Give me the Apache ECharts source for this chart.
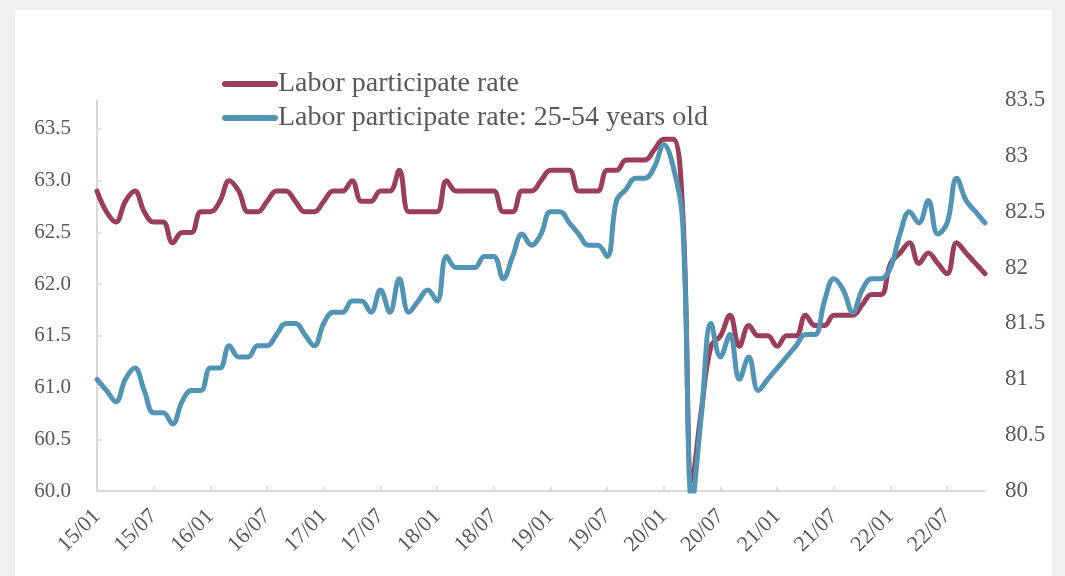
<!DOCTYPE html>
<html>
<head>
<meta charset="utf-8">
<script src="https://cdn.jsdelivr.net/npm/echarts@6/dist/echarts.min.js"></script>
<style>
html,body{margin:0;padding:0;background:#f0f0f0;}
#card{position:absolute;left:15px;top:10px;width:1037px;height:566px;background:#fff;}
#chart{position:absolute;left:0;top:0;width:1065px;height:576px;}
</style>
</head>
<body>
<div id="card"></div>
<div id="chart"></div>
<script>
const categories = [
'15/01','15/02','15/03','15/04','15/05','15/06','15/07','15/08','15/09','15/10','15/11','15/12',
'16/01','16/02','16/03','16/04','16/05','16/06','16/07','16/08','16/09','16/10','16/11','16/12',
'17/01','17/02','17/03','17/04','17/05','17/06','17/07','17/08','17/09','17/10','17/11','17/12',
'18/01','18/02','18/03','18/04','18/05','18/06','18/07','18/08','18/09','18/10','18/11','18/12',
'19/01','19/02','19/03','19/04','19/05','19/06','19/07','19/08','19/09','19/10','19/11','19/12',
'20/01','20/02','20/03','20/04','20/05','20/06','20/07','20/08','20/09','20/10','20/11','20/12',
'21/01','21/02','21/03','21/04','21/05','21/06','21/07','21/08','21/09','21/10','21/11','21/12',
'22/01','22/02','22/03','22/04','22/05','22/06','22/07','22/08','22/09','22/10','22/11'
];
const seriesNames = ['Labor participate rate', 'Labor participate rate: 25-54 years old'];
const laborRate = [
62.9, 62.7, 62.6, 62.8, 62.9, 62.7, 62.6, 62.6, 62.4, 62.5, 62.5, 62.7,
62.7, 62.8, 63.0, 62.9, 62.7, 62.7, 62.8, 62.9, 62.9, 62.8, 62.7, 62.7,
62.8, 62.9, 62.9, 63.0, 62.8, 62.8, 62.9, 62.9, 63.1, 62.7, 62.7, 62.7,
62.7, 63.0, 62.9, 62.9, 62.9, 62.9, 62.9, 62.7, 62.7, 62.9, 62.9, 63.0,
63.1, 63.1, 63.1, 62.9, 62.9, 62.9, 63.1, 63.1, 63.2, 63.2, 63.2, 63.3,
63.4, 63.4, 62.7, 60.1, 60.8, 61.4, 61.5, 61.7, 61.4, 61.6, 61.5, 61.5,
61.4, 61.5, 61.5, 61.7, 61.6, 61.6, 61.7, 61.7, 61.7, 61.8, 61.9, 61.9,
62.2, 62.3, 62.4, 62.2, 62.3, 62.2, 62.1, 62.4, 62.3, 62.2, 62.1
];
const laborRatePrime = [
81.0, 80.9, 80.8, 81.0, 81.1, 80.9, 80.7, 80.7, 80.6, 80.8, 80.9, 80.9,
81.1, 81.1, 81.3, 81.2, 81.2, 81.3, 81.3, 81.4, 81.5, 81.5, 81.4, 81.3,
81.5, 81.6, 81.6, 81.7, 81.7, 81.6, 81.8, 81.6, 81.9, 81.6, 81.7, 81.8,
81.7, 82.1, 82.0, 82.0, 82.0, 82.1, 82.1, 81.9, 82.1, 82.3, 82.2, 82.3,
82.5, 82.5, 82.4, 82.3, 82.2, 82.2, 82.1, 82.6, 82.7, 82.8, 82.8, 82.9,
83.1, 82.9, 82.4, 79.9, 80.7, 81.5, 81.2, 81.4, 81.0, 81.2, 80.9, 81.0,
81.1, 81.2, 81.3, 81.4, 81.4, 81.7, 81.9, 81.8, 81.6, 81.8, 81.9, 81.9,
82.0, 82.3, 82.5, 82.4, 82.6, 82.3, 82.4, 82.8, 82.6, 82.5, 82.4
];

const FONT = 'Liberation Serif';
const TXT = '#595959';
const AXIS = '#d9d9d9';
const RED = '#9a3e5c';
const BLUE = '#5294b4';
const pill = 'path://M3,0 L53,0 A3,3 0 0 1 53,6 L3,6 A3,3 0 0 1 3,0 Z';

const chart = echarts.init(document.getElementById('chart'), null, {renderer: 'canvas'});
chart.setOption({
  animation: false,
  backgroundColor: 'transparent',
  textStyle: {fontFamily: FONT},
  legend: {
    orient: 'vertical',
    left: 217, top: 65,
    itemWidth: 56, itemHeight: 6, itemGap: 6,
    textStyle: {fontFamily: FONT, fontSize: 28, color: TXT, padding: [0,0,0,-5]},
    data: [
      {name: seriesNames[0], icon: pill, itemStyle: {color: RED}},
      {name: seriesNames[1], icon: pill, itemStyle: {color: BLUE}}
    ]
  },
  grid: {left: 97, right: 80, top: 100, bottom: 85, containLabel: false},
  xAxis: {
    type: 'category',
    data: categories,
    boundaryGap: false,
    axisLine: {lineStyle: {color: AXIS, width: 2}},
    axisTick: {show: true, inside: true, length: 5, interval: 5, lineStyle: {color: AXIS, width: 1.5}},
    axisLabel: {interval: 5, rotate: 45, margin: 22, fontFamily: FONT, fontSize: 22, color: TXT},
    splitLine: {show: false}
  },
  yAxis: [
    {
      type: 'value', min: 60, max: 63.78, interval: 0.5,
      axisLine: {show: true, lineStyle: {color: AXIS, width: 2}},
      axisTick: {show: true, inside: true, length: 5, lineStyle: {color: AXIS, width: 1.5}},
      axisLabel: {margin: 26, fontFamily: FONT, fontSize: 21, color: TXT, showMaxLabel: false,
        formatter: v => v.toFixed(1)},
      splitLine: {show: false}
    },
    {
      type: 'value', min: 80, max: 83.5, interval: 0.5,
      axisLine: {show: false},
      axisTick: {show: false},
      axisLabel: {margin: 20, fontFamily: FONT, fontSize: 23, color: TXT},
      splitLine: {show: false}
    }
  ],
  series: [
    {
      name: seriesNames[0], type: 'line', yAxisIndex: 0, data: laborRate,
      smooth: 0.4, symbol: 'none', clip: true,
      lineStyle: {color: RED, width: 5, cap: 'round', join: 'round'},
      itemStyle: {color: RED}, z: 2
    },
    {
      name: seriesNames[1], type: 'line', yAxisIndex: 1, data: laborRatePrime,
      smooth: 0.4, symbol: 'none', clip: true,
      lineStyle: {color: BLUE, width: 5, cap: 'round', join: 'round'},
      itemStyle: {color: BLUE}, z: 3
    }
  ]
});
</script>
</body>
</html>
